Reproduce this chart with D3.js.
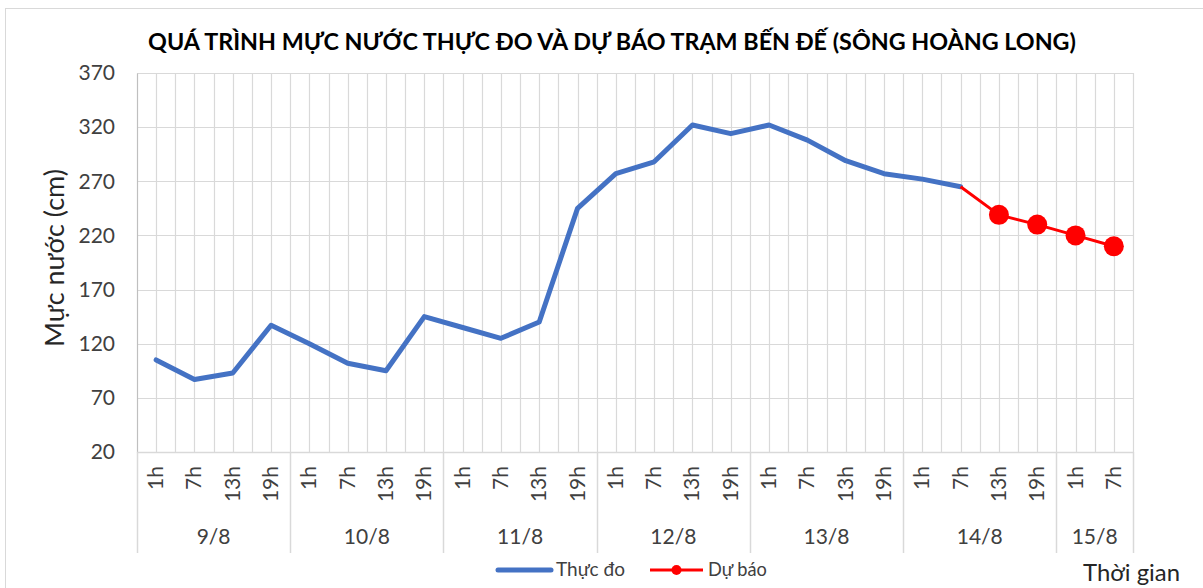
<!DOCTYPE html>
<html>
<head>
<meta charset="utf-8">
<script src="https://cdn.jsdelivr.net/npm/d3@7"></script>
<style>
  html, body { margin: 0; padding: 0; background: #fff; }
  svg { display: block; font-family: Lato, "Open Sans", sans-serif; }
</style>
</head>
<body>
<svg id="chart" width="1203" height="588"></svg>
<script>
// chart data
const hourLabels = [
  "1h", "7h", "13h", "19h",
  "1h", "7h", "13h", "19h",
  "1h", "7h", "13h", "19h",
  "1h", "7h", "13h", "19h",
  "1h", "7h", "13h", "19h",
  "1h", "7h", "13h", "19h",
  "1h", "7h"
];
const dayLabels = ["9/8", "10/8", "11/8", "12/8", "13/8", "14/8", "15/8"];
const daySizes = [4, 4, 4, 4, 4, 4, 2];

const observed = [105, 87, 93, 137, 120, 102, 95, 145, 135, 125, 140, 245,
  277, 288, 322, 314, 322, 308, 289, 277, 272, 265, null, null, null, null];
const forecast = [null, null, null, null, null, null, null, null, null, null, null, null,
  null, null, null, null, null, null, null, null, null, 265, 239, 230, 220, 210];

const yTicks = [20, 70, 120, 170, 220, 270, 320, 370];

const TITLE = "QUÁ TRÌNH MỰC NƯỚC THỰC ĐO VÀ DỰ BÁO TRẠM BẾN ĐẾ (SÔNG HOÀNG LONG)";
const Y_TITLE = "Mực nước (cm)";
const X_TITLE = "Thời gian";
const SERIES_NAMES = ["Thực đo", "Dự báo"];

const BLUE = "#4472c4";
const RED = "#ff0000";
const GRID = "#d9d9d9";
const TEXT = "#404040";

const svg = d3.select("#chart");
const plot = { left: 137, right: 1133, top: 73, bottom: 452 };

const idx = d3.range(hourLabels.length);
const x = d3.scaleBand().domain(idx).range([plot.left, plot.right]).padding(0);
const cx = i => x(i) + x.bandwidth() / 2;
const y = d3.scaleLinear().domain([20, 370]).range([plot.bottom, plot.top]);

// make a text fit a given length by adjusting font size
const fitText = (sel, len) => {
  const w = sel.node().getComputedTextLength();
  const fs = parseFloat(sel.attr("font-size"));
  sel.attr("font-size", (fs * len / w).toFixed(2));
};

// outer frame
svg.append("rect")
  .attr("x", 5.5).attr("y", 8.5)
  .attr("width", 1210).attr("height", 600)
  .attr("fill", "none").attr("stroke", GRID);

// grid
const grid = svg.append("g");
const vLines = d3.range(hourLabels.length * 2 + 1).map(k => plot.left + k * x.bandwidth() / 2);
grid.selectAll("line.v").data(vLines.slice(1)).join("line")
  .attr("class", "v")
  .attr("x1", d => Math.round(d) + 0.5).attr("x2", d => Math.round(d) + 0.5)
  .attr("y1", plot.top).attr("y2", plot.bottom)
  .attr("stroke", GRID).attr("stroke-width", 1.2);
grid.selectAll("line.h").data(yTicks.slice(1)).join("line")
  .attr("class", "h")
  .attr("x1", plot.left).attr("x2", plot.right)
  .attr("y1", d => Math.round(y(d)) + 0.5).attr("y2", d => Math.round(y(d)) + 0.5)
  .attr("stroke", GRID).attr("stroke-width", 1.2);

// y axis
const yAxis = svg.append("g")
  .attr("transform", `translate(${plot.left},0)`)
  .call(d3.axisLeft(y).tickValues(yTicks).tickSize(0).tickPadding(22));
yAxis.select(".domain").attr("stroke", "#bfbfbf").attr("stroke-width", 1.2);
yAxis.selectAll("text")
  .attr("font-size", 21).attr("font-family", "Lato, sans-serif").attr("fill", TEXT);

// x axis line and day separators
svg.append("line")
  .attr("x1", plot.left).attr("x2", plot.right)
  .attr("y1", plot.bottom + 0.5).attr("y2", plot.bottom + 0.5)
  .attr("stroke", GRID).attr("stroke-width", 1.5);

let start = 0;
const groups = dayLabels.map((label, g) => {
  const grp = { label, first: start, last: start + daySizes[g] - 1 };
  start += daySizes[g];
  return grp;
});
const sepX = [plot.left].concat(groups.map(g => x(g.last) + x.bandwidth()));
svg.selectAll("line.sep").data(sepX).join("line")
  .attr("class", "sep")
  .attr("x1", d => Math.round(d) + 0.5).attr("x2", d => Math.round(d) + 0.5)
  .attr("y1", plot.bottom).attr("y2", 553)
  .attr("stroke", GRID).attr("stroke-width", 1.5);

// hour labels (rotated)
svg.selectAll("text.hour").data(idx).join("text")
  .attr("class", "hour")
  .attr("transform", i => `translate(${cx(i) + 7},466) rotate(-90)`)
  .attr("text-anchor", "end")
  .attr("font-size", 21).attr("fill", TEXT)
  .text(i => hourLabels[i]);

// day labels
svg.selectAll("text.day").data(groups).join("text")
  .attr("class", "day")
  .attr("x", g => (x(g.first) + x(g.last) + x.bandwidth()) / 2)
  .attr("y", 544)
  .attr("text-anchor", "middle")
  .attr("font-size", 21).attr("fill", TEXT)
  .text(g => g.label);

// series
const line = d3.line()
  .x(d => cx(d.i)).y(d => y(d.v))
  .defined(d => d.v != null);

svg.append("path")
  .datum(observed.map((v, i) => ({ i, v })))
  .attr("d", line)
  .attr("fill", "none").attr("stroke", BLUE)
  .attr("stroke-width", 5).attr("stroke-linejoin", "round").attr("stroke-linecap", "round");

svg.append("path")
  .datum(forecast.map((v, i) => ({ i, v })))
  .attr("d", line)
  .attr("fill", "none").attr("stroke", RED)
  .attr("stroke-width", 3).attr("stroke-linejoin", "round");

svg.selectAll("circle.fc")
  .data(forecast.map((v, i) => ({ i, v })).filter(d => d.v != null && observed[d.i] == null))
  .join("circle")
  .attr("class", "fc")
  .attr("cx", d => cx(d.i)).attr("cy", d => y(d.v))
  .attr("r", 10).attr("fill", RED);

// title
const title = svg.append("text")
  .attr("x", 612).attr("y", 50)
  .attr("text-anchor", "middle")
  .attr("font-size", 22).attr("font-weight", "bold").attr("fill", "#000")
  .text(TITLE);
fitText(title, 928);

// y title
const yTitle = svg.append("text")
  .attr("transform", "translate(64,258) rotate(-90)")
  .attr("text-anchor", "middle")
  .attr("font-size", 24).attr("fill", "#262626")
  .text(Y_TITLE);
fitText(yTitle, 178);

// x title
const xTitle = svg.append("text")
  .attr("x", 1083).attr("y", 581)
  .attr("font-size", 22).attr("fill", "#262626")
  .text(X_TITLE);
fitText(xTitle, 97);

// legend
const legend = svg.append("g").attr("fill", TEXT);
legend.append("line")
  .attr("x1", 498).attr("x2", 551).attr("y1", 570).attr("y2", 570)
  .attr("stroke", BLUE).attr("stroke-width", 5).attr("stroke-linecap", "round");
fitText(legend.append("text").attr("x", 556).attr("y", 576)
  .attr("font-size", 17).text(SERIES_NAMES[0]), 69);
legend.append("line")
  .attr("x1", 650).attr("x2", 703).attr("y1", 570).attr("y2", 570)
  .attr("stroke", RED).attr("stroke-width", 3);
legend.append("circle").attr("cx", 676.5).attr("cy", 570).attr("r", 5).attr("fill", RED);
fitText(legend.append("text").attr("x", 708).attr("y", 576)
  .attr("font-size", 17).text(SERIES_NAMES[1]), 59);
</script>
</body>
</html>
